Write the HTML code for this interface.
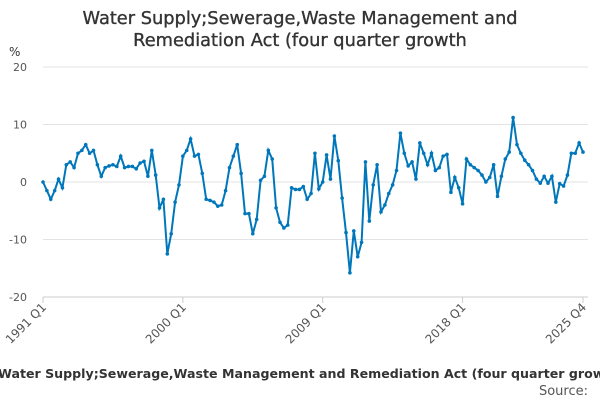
<!DOCTYPE html>
<html><head><meta charset="utf-8"><style>
body{margin:0;width:600px;height:400px;overflow:hidden;background:#fff;font-family:"DejaVu Sans",sans-serif}
</style></head><body>
<svg width="600" height="400" id="c" font-family="DejaVu Sans, sans-serif">
<text x="300" y="24" text-anchor="middle" font-size="17.8" fill="#333" stroke="#333" stroke-width="0.35">Water Supply;Sewerage,Waste Management and</text>
<text x="300" y="46" text-anchor="middle" font-size="17.8" fill="#333" stroke="#333" stroke-width="0.35">Remediation Act (four quarter growth</text>
<text x="9" y="56" font-size="12" fill="#333">%</text>
<g id="grid"></g><g id="xt"></g>
<path id="line" fill="none" stroke="#0077bb" stroke-width="2"/>
<g id="pts"></g>
<text x="-2" y="378" font-size="12.6" font-weight="bold" fill="#333">Water Supply;Sewerage,Waste Management and Remediation Act (four quarter growth</text>
<text x="588" y="395" text-anchor="end" font-size="13" fill="#555">Source:</text>
</svg>
<script>
const yTicks=[20,10,0,-10,-20];
const xLabels=["1991 Q1","2000 Q1","2009 Q1","2018 Q1","2025 Q4"];
const xLabelIdx=[0,36,72,108,139];
const values=[0,-1.5,-3,-1.5, 0.5,-1,3,3.5, 2.5,5,5.5,6.5, 5,5.5,3,1, 2.5,2.8,3,2.7, 4.5,2.5,2.7,2.7, 2.3,3.3,3.6,1, 5.5,1.2,-4.5,-3,
-12.5,-9,-3.5,-0.5, 4.5,5.5,7.5,4.5, 4.8,1.5,-3,-3.2, -3.5,-4.2,-4,-1.5, 2.5,4.5,6.5,1.5, -5.5,-5.5,-9,-6.5, 0.3,1,5.5,4, -4.5,-7,-8,-7.5, -1,-1.3,-1.3,-0.8, -3,-2,5,-1.2, 0,4.7,0.5,8, 3.7,-2.8,-8.8,-15.8,
-8.5,-13,-10.5,3.5, -6.8,-0.5,3,-5.2, -4,-2,-0.5,2, 8.5,5,2.8,3.5, 0.5,6.8,5,3, 5,2,2.5,4.5, 4.8,-1.8,0.8,-1,
-3.8,4,3,2.5, 2,1.2,0,0.8, 3,-2.5,1,4, 5.2,11.2,6.5,5, 3.8,3,2,0.5, -0.2,1,-0.2,1, -3.5,-0.3,-0.7,1.2, 5,5,6.8,5.2];
const NS="http://www.w3.org/2000/svg";
const x=i=>43+i*(540/(values.length-1));
const y=v=>182-v*5.75;
const grid=document.getElementById('grid');
yTicks.forEach(t=>{
 const l=document.createElementNS(NS,'line');
 l.setAttribute('x1',43);l.setAttribute('x2',588);l.setAttribute('y1',y(t));l.setAttribute('y2',y(t));
 l.setAttribute('stroke',t==-20?'#ccc':'#e3e3e3');
 
 
 grid.appendChild(l);
 const tx=document.createElementNS(NS,'text');
 tx.setAttribute('x',27);tx.setAttribute('y',y(t)+4);tx.setAttribute('text-anchor','end');tx.setAttribute('font-size','11');tx.setAttribute('fill','#555');
 tx.textContent=t;
 
 
 grid.appendChild(tx);
});
const xt=document.getElementById('xt');
xLabels.forEach((lab,k)=>{
 const px=x(xLabelIdx[k]);
 const tk=document.createElementNS(NS,'line');
 tk.setAttribute('x1',px);tk.setAttribute('x2',px);tk.setAttribute('y1',297);tk.setAttribute('y2',303);tk.setAttribute('stroke','#ccc');
 
 
 xt.appendChild(tk);
 const tx=document.createElementNS(NS,'text');
 tx.setAttribute('x',px+4);tx.setAttribute('y',308);tx.setAttribute('text-anchor','end');tx.setAttribute('font-size','12');tx.setAttribute('fill','#555');
 tx.setAttribute('transform',`rotate(-45 ${px+4} 308)`);
 tx.textContent=lab;
 
 
 xt.appendChild(tx);
});
document.getElementById('line').setAttribute('d',values.map((v,i)=>(i?'L':'M')+x(i).toFixed(1)+','+y(v).toFixed(1)).join(''));
const pts=document.getElementById('pts');
values.forEach((v,i)=>{
 const c=document.createElementNS(NS,'circle');
 c.setAttribute('cx',x(i));c.setAttribute('cy',y(v));c.setAttribute('r',1.8);c.setAttribute('fill','#0077bb');
 
 
 pts.appendChild(c);
});
</script>
</body></html>
